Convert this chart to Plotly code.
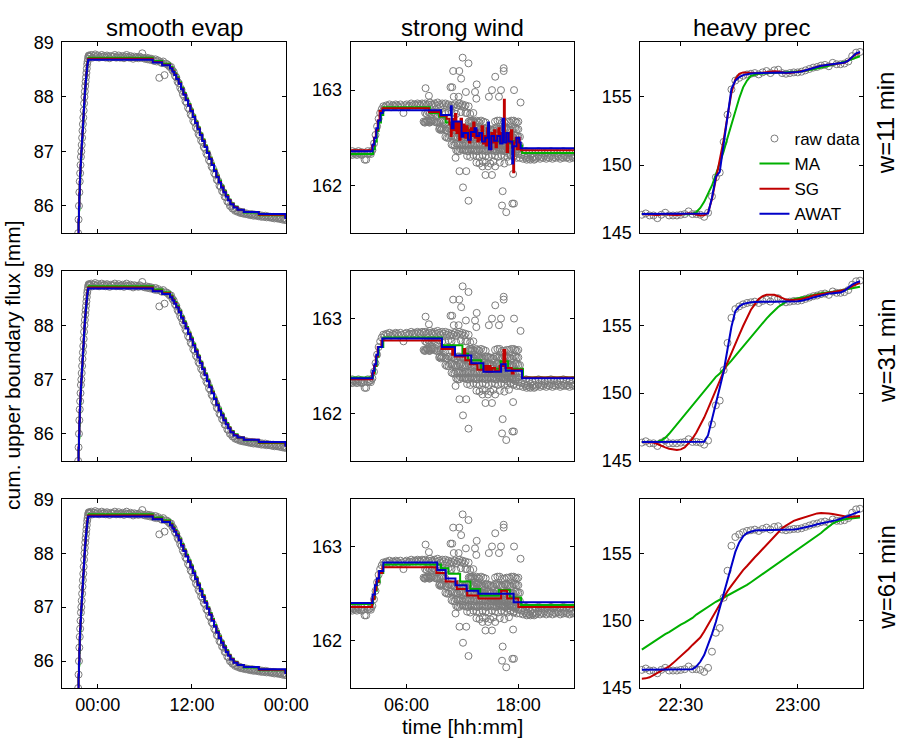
import pandas as pd
import plotly.graph_objects as go

FONT = "Liberation Sans, Arial, Helvetica, sans-serif"
GRAY = "#7c7c7c"
C_MA = "#00b000"
C_SG = "#c00000"
C_AW = "#0000c8"

# ---------------- column titles / row labels / ticks ----------------
col_titles = ["smooth evap", "strong wind", "heavy prec"]
row_labels = ["w=11 min", "w=31 min", "w=61 min"]
legend_names = ["raw data", "MA", "SG", "AWAT"]

# ---------------- smooth evap (hours relative to midnight) ----------------
evap_rise_v = [85.50, 85.75, 86.00, 86.25, 86.45, 86.60, 86.75, 86.90, 87.00, 87.12,
               87.25, 87.38, 87.50, 87.62, 87.75, 87.88, 88.00, 88.10, 88.20, 88.28,
               88.36, 88.44, 88.52, 88.60, 88.65, 88.70, 88.74, 88.76, 88.75, 88.74]
evap_main_v = [
    88.74, 88.77, 88.72, 88.75, 88.78, 88.73,
    88.76, 88.72, 88.74, 88.77, 88.73, 88.75,
    88.72, 88.76, 88.74, 88.71, 88.75, 88.73,
    88.74, 88.77, 88.72, 88.73, 88.76, 88.72,
    88.73, 88.75, 88.71, 88.74, 88.77, 88.73,
    88.72, 88.75, 88.73, 88.70, 88.74, 88.72,
    88.73, 88.71, 88.74, 88.72, 88.80, 88.71,
    88.70, 88.72, 88.69, 88.71, 88.68, 88.70,
    88.68, 88.66, 88.69, 88.65, 88.67, 88.35,
    88.64, 88.62, 88.65, 88.40, 88.61, 88.60,
    88.58, 88.55, 88.55, 88.49, 88.46, 88.39,
    88.36, 88.28, 88.25, 88.17, 88.13, 88.05,
    88.01, 87.92, 87.89, 87.80, 87.77, 87.68,
    87.65, 87.56, 87.53, 87.44, 87.41, 87.32,
    87.29, 87.20, 87.17, 87.08, 87.05, 86.96,
    86.93, 86.84, 86.81, 86.72, 86.69, 86.60,
    86.57, 86.48, 86.46, 86.37, 86.35, 86.27,
    86.25, 86.17, 86.16, 86.08, 86.07, 86.00,
    85.99, 85.95, 85.95, 85.91, 85.92, 85.89,
    85.90, 85.87, 85.88, 85.86, 85.87, 85.85,
    85.86, 85.84, 85.85, 85.83, 85.85, 85.82,
    85.84, 85.82, 85.83, 85.81, 85.83, 85.80,
    85.82, 85.80, 85.82, 85.79, 85.81, 85.79,
    85.80, 85.78, 85.80, 85.77, 85.79, 85.77,
    85.78, 85.76, 85.78, 85.75, 85.77, 85.74,
    85.75]
evap_line_h = [-2.50, -2.45, -2.40, -2.35, -2.30, -2.25, -2.20, -2.15, -2.10, -2.05,
               -2.00, -1.95, -1.90, -1.85, -1.80, -1.75, -1.70, -1.65, -1.60, -1.55,
               -1.50, -1.45, -1.40, -1.35, -1.30, -1.25, -1.20,
               7.0, 8.2, 9.2, 9.5, 9.75, 10.0, 10.3, 10.6, 10.9, 11.2, 11.5, 11.8,
               12.1, 12.4, 12.7, 13.0, 13.3, 13.6, 13.9, 14.2, 14.5, 14.8, 15.1, 15.4,
               15.7, 16.0, 16.3, 16.6, 16.9, 17.3, 17.8, 18.6, 20.5, 23.9, 24.0]
evap_ma_v = [85.55, 85.70, 85.92, 86.15, 86.38, 86.56, 86.72, 86.86, 86.99, 87.11,
             87.23, 87.36, 87.48, 87.60, 87.72, 87.85, 87.97, 88.08, 88.18, 88.27,
             88.35, 88.43, 88.51, 88.58, 88.64, 88.69, 88.72,
             88.66, 88.61, 88.55, 88.49, 88.43, 88.36, 88.27, 88.17, 88.07, 87.97,
             87.87, 87.77, 87.66, 87.55, 87.44, 87.33, 87.22, 87.11, 87.00, 86.89,
             86.78, 86.67, 86.56, 86.46, 86.37, 86.28, 86.20, 86.12, 86.05, 85.99,
             85.93, 85.88, 85.83, 85.80, 85.80]
evap_sg_v = [85.50, 85.76, 86.00, 86.24, 86.45, 86.61, 86.76, 86.90, 87.01, 87.13,
             87.26, 87.39, 87.51, 87.63, 87.76, 87.88, 88.00, 88.11, 88.20, 88.29,
             88.37, 88.45, 88.53, 88.60, 88.65, 88.69, 88.70,
             88.64, 88.59, 88.53, 88.47, 88.41, 88.34, 88.25, 88.15, 88.05, 87.95,
             87.85, 87.75, 87.64, 87.53, 87.42, 87.31, 87.20, 87.09, 86.98, 86.87,
             86.76, 86.65, 86.54, 86.44, 86.35, 86.26, 86.18, 86.11, 86.04, 85.98,
             85.93, 85.89, 85.84, 85.79, 85.79]
evap_awat_v = [85.50, 85.74, 85.98, 86.22, 86.44, 86.60, 86.75, 86.89, 87.01, 87.13,
               87.25, 87.38, 87.50, 87.62, 87.75, 87.87, 87.99, 88.10, 88.19, 88.28,
               88.36, 88.44, 88.51, 88.58, 88.63, 88.67, 88.68,
               88.63, 88.58, 88.52, 88.46, 88.40, 88.33, 88.24, 88.14, 88.04, 87.94,
               87.84, 87.74, 87.63, 87.52, 87.41, 87.30, 87.19, 87.08, 86.97, 86.86,
               86.75, 86.64, 86.53, 86.43, 86.34, 86.25, 86.17, 86.10, 86.03, 85.97,
               85.93, 85.89, 85.85, 85.78, 85.78]

# ---------------- strong wind ----------------
wind_main_v = [
    162.33, 162.32, 162.34, 162.33, 162.32, 162.34,
    162.33, 162.32, 162.33, 162.27, 162.27, 162.33,
    162.34, 162.33, 162.37, 162.44, 162.53, 162.62,
    162.70, 162.76, 162.80, 162.83, 162.82, 162.84,
    162.83, 162.85, 162.82, 162.84, 162.83, 162.85,
    162.84, 162.82, 162.85, 162.83, 162.76, 162.84,
    162.85, 162.83, 162.84, 162.86, 162.84, 162.85,
    162.84, 162.86, 162.85, 162.84, 162.86, 162.85,
    162.86, 162.84, 162.85, 162.87, 162.85, 162.84,
    162.86, 162.84, 162.87, 162.85, 162.83, 162.86,
    162.84, 162.86, 162.83, 162.85, 162.82, 162.84,
    162.83, 162.85, 162.82, 162.84, 162.86, 162.83,
    162.85, 162.82, 162.84, 162.76, 162.83, 162.68,
    162.66, 162.58, 162.62, 162.55, 162.60, 162.52,
    162.57, 162.50, 162.54, 162.48, 162.52, 162.46,
    162.50, 162.44, 162.47, 162.42, 162.46, 162.40,
    162.44, 162.38, 162.42, 162.36, 162.40, 162.34,
    162.38, 162.32, 162.36, 162.30, 162.34, 162.29,
    162.33, 162.29, 162.32, 162.28, 162.31, 162.29,
    162.30, 162.28, 162.31, 162.29, 162.30, 162.28,
    162.29, 162.31, 162.28, 162.30, 162.29, 162.31,
    162.28, 162.30, 162.29, 162.31, 162.28, 162.30,
    162.29, 162.31, 162.30, 162.28, 162.30, 162.29,
    162.31, 162.29, 162.30, 162.28, 162.31, 162.29,
    162.30]
wind_extra = [
    (8.00, 162.76), (8.17, 162.75), (8.33, 162.77), (8.50, 162.76), (8.67, 162.75), (8.83, 162.77),
    (9.00, 162.76), (9.17, 162.75), (9.50, 162.77), (9.83, 162.76), (10.17, 162.75), (10.50, 162.77),
    (10.83, 162.76), (11.33, 162.75), (11.83, 162.77), (12.33, 162.76), (12.83, 162.75), (13.17, 162.76),
    (7.83, 162.67), (8.00, 162.66), (8.17, 162.68), (8.33, 162.67), (8.50, 162.66), (8.67, 162.68),
    (9.00, 162.67), (9.33, 162.66), (9.67, 162.68), (10.00, 162.67), (10.17, 162.66), (12.67, 162.67),
    (13.00, 162.68), (13.33, 162.66), (13.67, 162.67), (14.00, 162.68), (14.50, 162.66), (15.50, 162.67),
    (16.00, 162.68), (16.50, 162.66), (17.00, 162.67), (17.50, 162.68), (17.83, 162.66), (18.00, 162.67),
    (7.92, 162.66), (8.08, 162.67), (8.25, 162.68), (8.42, 162.66), (8.58, 162.67), (8.83, 162.68),
    (9.17, 162.66), (9.50, 162.67), (9.83, 162.68), (12.83, 162.66), (13.17, 162.67), (13.50, 162.68),
    (13.83, 162.66), (14.25, 162.67), (15.75, 162.68), (16.25, 162.66), (16.75, 162.67), (17.25, 162.68),
    (17.67, 162.67),
    (9.50, 162.59), (9.67, 162.58), (9.83, 162.60), (10.00, 162.59), (10.33, 162.58), (10.67, 162.60),
    (11.00, 162.59), (11.33, 162.58), (11.67, 162.60), (12.00, 162.59), (12.33, 162.58), (12.67, 162.60),
    (13.00, 162.59), (13.33, 162.58), (13.67, 162.60), (14.00, 162.59), (14.33, 162.58), (14.67, 162.60),
    (15.00, 162.59), (15.33, 162.58), (15.67, 162.60), (16.00, 162.59), (16.33, 162.58), (16.67, 162.60),
    (17.00, 162.59), (17.33, 162.58), (17.67, 162.60), (18.00, 162.59),
    (9.58, 162.60), (9.75, 162.59), (10.17, 162.58), (10.50, 162.60), (10.83, 162.59), (11.17, 162.58),
    (11.50, 162.60), (11.83, 162.59), (12.17, 162.58), (12.50, 162.60), (12.83, 162.59), (13.17, 162.58),
    (13.50, 162.60), (13.83, 162.59), (14.17, 162.58), (14.50, 162.60), (14.83, 162.59), (15.17, 162.58),
    (15.50, 162.60), (15.83, 162.59), (16.17, 162.58), (16.50, 162.60), (16.83, 162.59), (17.17, 162.58),
    (17.50, 162.60), (17.83, 162.59),
    (10.17, 162.51), (10.50, 162.50), (10.83, 162.52), (11.17, 162.51), (11.50, 162.50), (11.83, 162.52),
    (12.17, 162.51), (12.50, 162.50), (12.83, 162.52), (13.17, 162.51), (13.50, 162.50), (13.83, 162.52),
    (14.17, 162.51), (14.50, 162.50), (14.83, 162.52), (15.17, 162.51), (15.50, 162.50), (15.83, 162.52),
    (16.17, 162.51), (16.50, 162.50), (16.83, 162.52), (17.17, 162.51), (17.50, 162.50), (17.83, 162.52),
    (18.17, 162.51),
    (10.33, 162.50), (10.67, 162.52), (11.00, 162.51), (11.33, 162.50), (11.67, 162.52), (12.00, 162.51),
    (12.33, 162.50), (12.67, 162.52), (13.00, 162.51), (13.33, 162.50), (13.67, 162.52), (14.00, 162.51),
    (14.33, 162.50), (14.67, 162.52), (15.00, 162.51), (15.33, 162.50), (15.67, 162.52), (16.00, 162.51),
    (16.33, 162.50), (16.67, 162.52), (17.00, 162.51), (17.33, 162.50), (17.67, 162.52), (18.00, 162.51),
    (10.83, 162.43), (11.17, 162.42), (11.50, 162.44), (11.83, 162.43), (12.17, 162.42), (12.50, 162.44),
    (12.83, 162.43), (13.17, 162.42), (13.50, 162.44), (13.83, 162.43), (14.17, 162.42), (14.50, 162.44),
    (14.83, 162.43), (15.17, 162.42), (15.50, 162.44), (15.83, 162.43), (16.17, 162.42), (16.50, 162.44),
    (16.83, 162.43), (17.17, 162.42), (17.50, 162.44), (17.83, 162.43), (18.17, 162.42),
    (11.00, 162.42), (11.33, 162.44), (11.67, 162.43), (12.00, 162.42), (12.33, 162.44), (12.67, 162.43),
    (13.00, 162.42), (13.33, 162.44), (13.67, 162.43), (14.00, 162.42), (14.33, 162.44), (14.67, 162.43),
    (15.00, 162.42), (15.33, 162.44), (15.67, 162.43), (16.00, 162.42), (16.33, 162.44), (16.67, 162.43),
    (17.00, 162.42), (17.33, 162.44), (17.67, 162.43), (18.00, 162.42),
    (11.33, 162.37), (11.67, 162.36), (12.00, 162.38), (12.33, 162.37), (12.67, 162.36), (13.00, 162.38),
    (13.33, 162.37), (13.67, 162.36), (14.00, 162.38), (14.33, 162.37), (14.67, 162.36), (15.00, 162.38),
    (15.33, 162.37), (15.67, 162.36), (16.00, 162.38), (16.33, 162.37), (16.67, 162.36), (17.00, 162.38),
    (17.33, 162.37), (17.67, 162.36), (18.00, 162.38),
    (11.50, 162.36), (11.83, 162.38), (12.17, 162.37), (12.50, 162.36), (12.83, 162.38), (13.17, 162.37),
    (13.50, 162.36), (13.83, 162.38), (14.17, 162.37), (14.50, 162.36), (14.83, 162.38), (15.17, 162.37),
    (15.50, 162.36), (15.83, 162.38), (16.17, 162.37), (16.50, 162.36), (16.83, 162.38), (17.17, 162.37),
    (17.50, 162.36), (17.83, 162.38),
    (12.50, 162.31), (12.83, 162.30), (13.17, 162.32), (13.50, 162.31), (13.83, 162.30), (14.17, 162.32),
    (14.50, 162.31), (14.83, 162.30), (15.17, 162.32), (15.50, 162.31), (15.83, 162.30), (16.17, 162.32),
    (16.50, 162.31), (16.83, 162.30), (17.17, 162.32), (17.50, 162.31),
    (13.50, 162.24), (13.83, 162.23), (14.17, 162.25), (14.50, 162.24), (15.00, 162.23), (15.33, 162.25),
    (16.00, 162.24), (16.50, 162.23), (17.00, 162.25),
    (18.50, 162.35), (18.83, 162.36), (19.17, 162.35), (19.50, 162.34), (19.83, 162.35), (20.17, 162.36),
    (20.50, 162.35), (20.83, 162.34), (21.17, 162.35), (21.50, 162.36), (21.83, 162.35), (22.17, 162.34),
    (22.50, 162.35), (22.83, 162.36), (23.17, 162.35), (23.50, 162.34), (23.83, 162.35),
    (0.17, 162.36), (0.50, 162.35), (0.83, 162.36), (1.17, 162.35), (1.83, 162.36), (2.17, 162.35),
    (8.04, 163.02), (8.40, 162.94), (10.72, 163.03), (10.90, 163.03), (11.00, 163.20), (11.07, 162.93),
    (11.59, 162.93), (11.66, 163.20), (11.86, 163.12), (12.02, 163.34), (12.37, 162.98), (12.65, 163.28),
    (13.35, 162.98), (13.49, 162.91), (13.53, 163.06), (14.84, 162.93), (15.17, 163.00), (15.52, 163.14),
    (15.92, 162.93), (16.14, 163.00), (16.43, 163.23), (16.43, 163.20), (17.54, 163.00), (18.24, 162.87),
    (11.26, 162.29), (11.68, 162.15), (12.06, 161.98), (12.41, 162.15), (12.65, 161.84), (14.15, 162.20),
    (14.47, 162.11), (14.75, 162.20), (15.17, 162.11), (15.52, 162.20), (16.25, 161.79), (16.32, 161.94),
    (16.70, 161.72), (17.36, 161.81), (17.44, 162.12), (17.53, 161.81), (18.90, 162.27), (19.30, 162.27),
    (19.70, 162.27)]

wind_ma11 = [(0, 162.33), (2.4, 162.38), (2.6, 162.46), (2.8, 162.57), (3.0, 162.66), (3.25, 162.74),
             (3.5, 162.82), (8.5, 162.76), (9.5, 162.72), (10.2, 162.66), (10.8, 162.62), (11.4, 162.58),
             (12.0, 162.60), (12.6, 162.55), (13.2, 162.54), (13.8, 162.52), (14.4, 162.48), (15.0, 162.50),
             (15.6, 162.46), (16.2, 162.48), (16.8, 162.44), (17.4, 162.47), (18.0, 162.42), (18.4, 162.34),
             (24.0, 162.34)]
wind_sg11 = [(0, 162.37), (2.3, 162.42), (2.5, 162.50), (2.7, 162.58), (2.9, 162.68), (3.1, 162.78),
             (3.4, 162.81), (8.4, 162.77), (9.6, 162.73), (10.3, 162.70), (10.6, 162.64), (10.75, 162.52),
             (10.85, 162.70), (11.0, 162.58), (11.2, 162.75), (11.35, 162.55), (11.5, 162.66), (11.65, 162.48),
             (11.8, 162.70), (11.95, 162.55), (12.1, 162.64), (12.25, 162.50), (12.4, 162.62), (12.55, 162.58),
             (12.7, 162.45), (12.85, 162.60), (13.0, 162.52), (13.15, 162.66), (13.3, 162.50), (13.45, 162.58),
             (13.6, 162.46), (13.75, 162.55), (13.9, 162.48), (14.05, 162.62), (14.2, 162.44), (14.35, 162.52),
             (14.5, 162.42), (14.65, 162.60), (14.8, 162.50), (14.95, 162.38), (15.1, 162.55), (15.25, 162.45),
             (15.4, 162.58), (15.55, 162.40), (15.7, 162.52), (15.85, 162.60), (16.0, 162.45), (16.15, 162.55),
             (16.3, 162.48), (16.45, 162.90), (16.55, 162.50), (16.75, 162.35), (16.9, 162.55), (17.05, 162.45),
             (17.2, 162.58), (17.35, 162.40), (17.45, 162.14), (17.55, 162.45), (17.7, 162.50), (17.85, 162.38),
             (18.0, 162.50), (18.15, 162.38), (18.3, 162.37), (24.0, 162.37)]
wind_awat11 = [(0, 162.36), (2.35, 162.43), (2.55, 162.50), (2.75, 162.60), (2.95, 162.68), (3.2, 162.76),
               (3.45, 162.79), (9.7, 162.74), (10.75, 162.83), (10.85, 162.60), (11.05, 162.67), (11.9, 162.51),
               (12.1, 162.55), (12.6, 162.48), (12.9, 162.56), (13.3, 162.60), (13.5, 162.52), (13.8, 162.55),
               (14.1, 162.46), (14.45, 162.50), (14.75, 162.66), (14.85, 162.38), (15.1, 162.52), (15.4, 162.47),
               (15.75, 162.52), (16.05, 162.44), (16.3, 162.70), (16.45, 162.45), (16.7, 162.55), (16.95, 162.46),
               (17.35, 162.23), (17.45, 162.41), (17.8, 162.50), (18.1, 162.45), (18.25, 162.39), (24.0, 162.39)]
wind_ma31 = [(0, 162.38), (2.4, 162.43), (2.6, 162.50), (2.8, 162.60), (3.0, 162.70), (3.5, 162.80),
             (9.8, 162.72), (12.0, 162.63), (12.6, 162.56), (14.0, 162.47), (16.1, 162.55), (16.9, 162.47),
             (18.5, 162.38), (24.0, 162.38)]
wind_sg31 = [(0, 162.36), (2.3, 162.42), (2.5, 162.50), (2.7, 162.60), (2.9, 162.70), (3.3, 162.77),
             (9.75, 162.68), (10.9, 162.62), (11.0, 162.68), (11.2, 162.60), (12.15, 162.68), (12.3, 162.56),
             (12.8, 162.52), (13.6, 162.46), (14.4, 162.50), (14.6, 162.44), (14.8, 162.50), (15.0, 162.44),
             (15.2, 162.48), (15.5, 162.45), (16.0, 162.50), (16.4, 162.67), (16.6, 162.48), (17.3, 162.42),
             (17.5, 162.46), (18.4, 162.38), (24.0, 162.38)]
wind_awat31 = [(0, 162.37), (2.35, 162.45), (2.55, 162.52), (2.75, 162.62), (2.95, 162.70), (3.4, 162.79),
               (9.8, 162.70), (11.2, 162.61), (12.95, 162.53), (14.25, 162.44), (16.15, 162.52), (16.65, 162.45),
               (18.4, 162.37), (24.0, 162.37)]
wind_ma61 = [(0, 162.39), (2.4, 162.45), (2.6, 162.53), (2.8, 162.62), (3.1, 162.72), (3.5, 162.81),
             (9.7, 162.77), (10.5, 162.71), (11.75, 162.63), (12.85, 162.55), (13.9, 162.48), (15.9, 162.54),
             (17.1, 162.46), (18.3, 162.38), (24.0, 162.38)]
wind_sg61 = [(0, 162.36), (2.3, 162.44), (2.55, 162.54), (2.75, 162.63), (3.0, 162.72), (3.4, 162.78),
             (9.2, 162.72), (10.2, 162.63), (11.4, 162.55), (12.5, 162.48), (13.7, 162.45), (16.15, 162.53),
             (16.8, 162.45), (18.0, 162.36), (24.0, 162.37)]
wind_awat61 = [(0, 162.40), (2.35, 162.49), (2.6, 162.59), (2.8, 162.66), (3.05, 162.74), (3.5, 162.83),
               (9.3, 162.75), (10.2, 162.66), (11.25, 162.59), (12.45, 162.53), (13.7, 162.50), (17.5, 162.41),
               (24.0, 162.41)]

# ---------------- heavy prec (one value per minute from 22:20) ----------------
prec_raw = [146.35, 146.45, 146.30, 146.30, 146.10, 146.35, 146.50, 146.30, 146.30, 146.30,
            146.35, 146.40, 146.60, 146.40, 146.40, 146.35, 146.20, 146.50, 147.70, 149.10,
            149.45, 151.70, 153.70, 155.55, 156.20, 156.40, 156.55, 156.65, 156.70, 156.75,
            156.65, 156.80, 156.90, 156.75, 156.95, 157.00, 156.75, 156.70, 156.75, 156.80,
            156.80, 156.85, 156.95, 157.05, 157.15, 157.20, 157.30, 157.35, 157.25, 157.50,
            157.40, 157.40, 157.45, 157.60, 158.00, 158.25, 158.30]
prec_ma11 = [146.40, 146.40, 146.39, 146.38, 146.38, 146.37, 146.37, 146.36, 146.36, 146.37,
             146.37, 146.38, 146.39, 146.42, 146.55, 146.85, 147.30, 147.90, 148.50, 149.30,
             150.10, 151.00, 152.00, 153.00, 154.00, 154.90, 155.70, 156.20, 156.55, 156.65,
             156.70, 156.72, 156.75, 156.77, 156.78, 156.80, 156.80, 156.81, 156.82, 156.83,
             156.85, 156.88, 156.92, 156.97, 157.03, 157.10, 157.16, 157.22, 157.28, 157.35,
             157.42, 157.48, 157.56, 157.66, 157.78, 157.90, 157.98]
prec_sg11 = [146.40, 146.40, 146.38, 146.36, 146.34, 146.36, 146.40, 146.36, 146.33, 146.34,
             146.36, 146.42, 146.46, 146.42, 146.34, 146.30, 146.32, 146.50, 147.50, 149.00,
             150.30, 151.85, 153.60, 155.30, 156.30, 156.70, 156.80, 156.80, 156.78, 156.75,
             156.74, 156.78, 156.82, 156.85, 156.88, 156.86, 156.80, 156.76, 156.76, 156.80,
             156.82, 156.86, 156.94, 157.04, 157.14, 157.22, 157.28, 157.32, 157.36, 157.40,
             157.42, 157.44, 157.50, 157.68, 157.95, 158.15, 158.25]
prec_awat11 = [146.40, 146.40, 146.40, 146.40, 146.40, 146.40, 146.40, 146.40, 146.40, 146.40,
               146.40, 146.40, 146.40, 146.40, 146.40, 146.40, 146.40, 146.45, 147.60, 149.15,
               149.50, 151.60, 153.70, 155.60, 156.20, 156.45, 156.60, 156.68, 156.72, 156.74,
               156.75, 156.76, 156.78, 156.80, 156.82, 156.82, 156.80, 156.78, 156.78, 156.80,
               156.82, 156.86, 156.94, 157.04, 157.14, 157.22, 157.28, 157.32, 157.36, 157.42,
               157.46, 157.48, 157.52, 157.66, 157.95, 158.20, 158.30]
prec_ma31 = [146.40, 146.40, 146.40, 146.40, 146.42, 146.50, 146.70, 147.00, 147.35, 147.70,
             148.05, 148.40, 148.75, 149.10, 149.45, 149.80, 150.15, 150.50, 150.85, 151.20,
             151.45, 151.75, 152.05, 152.40, 152.75, 153.10, 153.45, 153.80, 154.15, 154.50,
             154.85, 155.20, 155.50, 155.80, 156.10, 156.35, 156.55, 156.75, 156.85, 156.93,
             157.00, 157.05, 157.10, 157.18, 157.25, 157.32, 157.37, 157.41, 157.44, 157.47,
             157.50, 157.55, 157.62, 157.68, 157.74, 157.80, 157.85]
prec_sg31 = [146.40, 146.40, 146.40, 146.35, 146.25, 146.10, 146.00, 145.90, 145.85, 145.80,
             145.85, 146.00, 146.30, 146.65, 147.10, 147.60, 148.20, 148.85, 149.50, 150.20,
             150.90, 151.60, 152.30, 153.00, 153.65, 154.30, 154.95, 155.60, 156.15, 156.55,
             156.95, 157.15, 157.25, 157.25, 157.25, 157.15, 157.00, 156.90, 156.85, 156.85,
             156.90, 156.95, 157.00, 157.10, 157.20, 157.25, 157.30, 157.35, 157.40, 157.45,
             157.50, 157.55, 157.60, 157.75, 157.90, 158.05, 158.15]
prec_awat31 = [146.40, 146.40, 146.40, 146.40, 146.40, 146.40, 146.40, 146.40, 146.40, 146.40,
               146.40, 146.40, 146.40, 146.40, 146.40, 146.40, 146.42, 146.90, 148.00, 149.25,
               150.40, 151.60, 153.20, 154.90, 156.05, 156.40, 156.58, 156.65, 156.70, 156.72,
               156.74, 156.75, 156.75, 156.75, 156.75, 156.75, 156.75, 156.75, 156.75, 156.76,
               156.78, 156.82, 156.88, 156.96, 157.06, 157.14, 157.20, 157.28, 157.34, 157.36,
               157.38, 157.42, 157.55, 157.78, 158.00, 158.15, 158.25]
prec_ma61 = [147.85, 148.05, 148.25, 148.40, 148.60, 148.80, 149.00, 149.15, 149.35, 149.50,
             149.70, 149.85, 150.00, 150.20, 150.45, 150.65, 150.85, 151.00, 151.20, 151.40,
             151.55, 151.70, 151.85, 152.00, 152.20, 152.35, 152.50, 152.65, 152.85, 153.05,
             153.25, 153.45, 153.65, 153.85, 154.05, 154.25, 154.45, 154.65, 154.85, 155.05,
             155.25, 155.45, 155.65, 155.85, 156.05, 156.25, 156.50, 156.75, 157.00, 157.20,
             157.35, 157.45, 157.52, 157.56, 157.60, 157.62, 157.64]
prec_sg61 = [145.70, 145.72, 145.80, 145.95, 146.10, 146.25, 146.40, 146.60, 146.85, 147.10,
             147.35, 147.60, 147.90, 148.20, 148.50, 148.75, 149.20, 149.70, 150.25, 150.75,
             151.25, 151.75, 152.20, 152.60, 153.00, 153.40, 153.75, 154.05, 154.40, 154.70,
             155.00, 155.30, 155.60, 155.95, 156.25, 156.55, 156.85, 157.05, 157.25, 157.40,
             157.50, 157.60, 157.70, 157.80, 157.90, 157.95, 157.98, 157.98, 157.95, 157.90,
             157.85, 157.75, 157.70, 157.68, 157.70, 157.72, 157.75]
prec_awat61 = [146.35, 146.35, 146.35, 146.35, 146.35, 146.35, 146.35, 146.35, 146.35, 146.35,
               146.35, 146.35, 146.35, 146.40, 146.60, 146.95, 147.45, 148.20, 149.00, 149.90,
               150.95, 152.10, 153.10, 154.10, 155.10, 155.80, 156.25, 156.50, 156.62, 156.68,
               156.70, 156.70, 156.70, 156.70, 156.70, 156.70, 156.70, 156.70, 156.70, 156.75,
               156.80, 156.85, 156.90, 156.95, 157.05, 157.15, 157.20, 157.25, 157.30, 157.35,
               157.45, 157.55, 157.65, 157.75, 157.85, 157.95, 158.10]

# ---------------- time helpers ----------------
DAY = pd.Timestamp("2000-01-02")


def at(hours):
    return [DAY + pd.Timedelta(hours=h) for h in hours]


evap_rise_t = pd.date_range("2000-01-01 21:30", periods=len(evap_rise_v), freq="3min")
evap_main_t = pd.date_range("2000-01-01 23:00", periods=len(evap_main_v), freq="10min")
evap_raw_t = list(evap_rise_t) + list(evap_main_t)
evap_raw_v = evap_rise_v + evap_main_v
evap_line_t = at(evap_line_h)

wind_main_t = pd.date_range("2000-01-02 00:00", periods=len(wind_main_v), freq="10min")
wind_raw_t = list(wind_main_t) + at([p[0] for p in wind_extra])
wind_raw_v = wind_main_v + [p[1] for p in wind_extra]

prec_t = list(pd.date_range("2000-01-01 22:20", periods=len(prec_raw), freq="1min"))


def pairs(p):
    return at([a for a, _ in p]), [b for _, b in p]


panels = {}
for r in range(3):
    panels[(r, 0)] = (evap_raw_t, evap_raw_v,
                      [(evap_line_t, evap_ma_v, "hv"), (evap_line_t, evap_sg_v, "hv"),
                       (evap_line_t, evap_awat_v, "hv")])
wind_sets = [(wind_ma11, wind_sg11, wind_awat11), (wind_ma31, wind_sg31, wind_awat31),
             (wind_ma61, wind_sg61, wind_awat61)]
prec_sets = [(prec_ma11, prec_sg11, prec_awat11), (prec_ma31, prec_sg31, prec_awat31),
             (prec_ma61, prec_sg61, prec_awat61)]
for r in range(3):
    panels[(r, 1)] = (wind_raw_t, wind_raw_v,
                      [(*pairs(s), "hv") for s in wind_sets[r]])
    panels[(r, 2)] = (prec_t, prec_raw,
                      [(prec_t, s, "linear") for s in prec_sets[r]])

# ---------------- layout geometry ----------------
W, H = 918, 748
x_px = [(64, 293.3), (359.3, 588.3), (656, 884.3)]
y_px = [(33.3, 229.3), (268.3, 463.3), (502.7, 696.7)]
x_ranges = [["2000-01-01 19:30", "2000-01-03 00:00:30"],
            ["2000-01-02 00:00", "2000-01-03 00:00"],
            ["2000-01-01 22:19:36", "2000-01-01 23:16:48"]]
x_ticks = [["2000-01-02 00:00", "2000-01-02 12:00", "2000-01-03 00:00"],
           ["2000-01-02 06:00", "2000-01-02 18:00"],
           ["2000-01-01 22:30", "2000-01-01 23:00"]]
y_ranges = [[85.5, 89.0], [161.5, 163.5], [145.0, 159.0]]
y_ticks = [[86, 87, 88, 89], [162, 163], [145, 150, 155]]

fig = go.Figure()
colors = [C_MA, C_SG, C_AW]
layout = dict(width=W, height=H, margin=dict(l=0, r=0, t=0, b=0, pad=0), autosize=False,
              paper_bgcolor="white", plot_bgcolor="white",
              font=dict(family=FONT, size=18, color="black"))

axis_common = dict(showline=True, linecolor="black", linewidth=1, mirror="ticks",
                   ticks="inside", ticklen=4, tickwidth=1, tickcolor="black",
                   showgrid=False, zeroline=False,
                   tickfont=dict(family=FONT, size=18, color="black"))

for r in range(3):
    for c in range(3):
        k = r * 3 + c + 1
        xa = "x" if k == 1 else f"x{k}"
        ya = "y" if k == 1 else f"y{k}"
        raw_t, raw_v, lines = panels[(r, c)]
        first = (r == 0 and c == 2)
        fig.add_trace(go.Scatter(x=raw_t, y=raw_v, mode="markers", name=legend_names[0],
                                 marker=dict(symbol="circle-open", size=7, color=GRAY,
                                             line=dict(width=1, color=GRAY)),
                                 showlegend=first, xaxis=xa, yaxis=ya))
        for j, (lt, lv, shp) in enumerate(lines):
            fig.add_trace(go.Scatter(x=lt, y=lv, mode="lines", name=legend_names[j + 1],
                                     line=dict(color=colors[j], width=2, shape=shp),
                                     showlegend=first, xaxis=xa, yaxis=ya))
        xl, xr = x_px[c]
        yt, yb = y_px[r]
        layout[f"xaxis{'' if k == 1 else k}"] = dict(
            axis_common, domain=[xl / W, xr / W], anchor=ya, type="date",
            range=x_ranges[c], tickvals=x_ticks[c], tickformat="%H:%M",
            showticklabels=(r == 2), ticklabelstandoff=0)
        layout[f"yaxis{'' if k == 1 else k}"] = dict(
            axis_common, domain=[1 - yb / H, 1 - yt / H], anchor=xa,
            range=y_ranges[c], tickvals=y_ticks[c], ticklabelstandoff=4)

layout["legend"] = dict(x=773 / W, y=1 - 114 / H, xanchor="left", yanchor="top",
                        bgcolor="rgba(0,0,0,0)", borderwidth=0,
                        font=dict(family=FONT, size=17, color="black"),
                        tracegroupgap=0)
layout["showlegend"] = True

ann = []
for c in range(3):
    ann.append(dict(text=col_titles[c], x=(x_px[c][0] + x_px[c][1]) / 2 / W, y=1 - 18 / H,
                    xref="paper", yref="paper", showarrow=False, xanchor="center",
                    yanchor="middle", font=dict(family=FONT, size=24, color="black")))
row_y = [116, 350, 583]
for r in range(3):
    ann.append(dict(text=row_labels[r], x=908 / W, y=1 - row_y[r] / H, xref="paper",
                    yref="paper", showarrow=False, textangle=-90, xanchor="center",
                    yanchor="middle", font=dict(family=FONT, size=24, color="black")))
ann.append(dict(text="cum. upper boundary flux [mm]", x=13 / W, y=1 - 365 / H,
                xref="paper", yref="paper", showarrow=False, textangle=-90,
                xanchor="center", yanchor="middle",
                font=dict(family=FONT, size=21, color="black")))
ann.append(dict(text="time [hh:mm]", x=474 / W, y=1 - 736 / H, xref="paper", yref="paper",
                showarrow=False, xanchor="center", yanchor="middle",
                font=dict(family=FONT, size=21, color="black")))
layout["annotations"] = ann

fig.update_layout(**layout)
fig.write_html("out.html")
